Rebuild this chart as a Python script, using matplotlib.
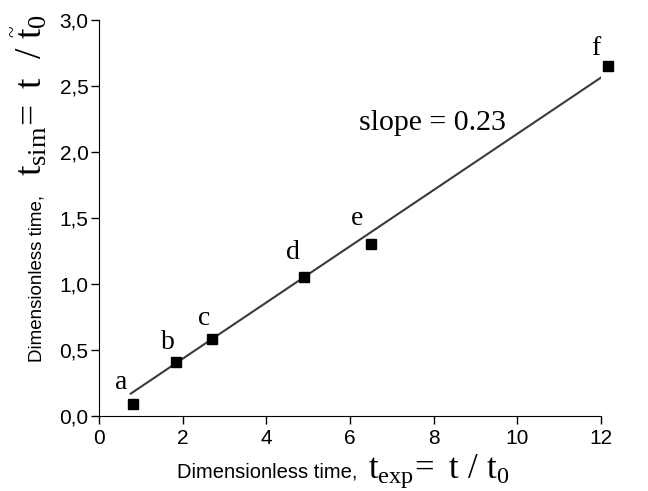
"""Dimensionless time: simulation vs experiment, with linear fit."""

import matplotlib

matplotlib.use("Agg")
import matplotlib.pyplot as plt  # noqa: E402

# data
labels = ["a", "b", "c", "d", "e", "f"]
t_exp = [0.82, 1.85, 2.70, 4.91, 6.50, 12.16]
t_sim = [0.09, 0.41, 0.585, 1.055, 1.30, 2.65]
fit_x = [0.76, 12.12]
fit_y = [0.17, 2.59]
x_ticks = [0, 2, 4, 6, 8, 10, 12]
y_ticks = [0.0, 0.5, 1.0, 1.5, 2.0, 2.5, 3.0]
# label offsets (pixels) from each point
label_offsets = [(-12, 22), (-8, 19), (-8, 20), (-11, 24), (-14, 26), (-12, 18)]

plt.rcParams["font.family"] = ["Liberation Sans", "DejaVu Sans"]
plt.rcParams["mathtext.fontset"] = "custom"
plt.rcParams["mathtext.rm"] = "Liberation Serif"
plt.rcParams["mathtext.it"] = "Liberation Serif"

fig = plt.figure(figsize=(6.48, 4.91), dpi=100)
ax = fig.add_axes([0.1528, 0.1527, 0.7747, 0.8065])

ax.plot(fit_x, fit_y, color="#3a3a3a", lw=1.5, zorder=2)
ax.plot(t_exp, t_sim, "s", color="black", ms=7, clip_on=False, zorder=3)

for lab, x, y, off in zip(labels, t_exp, t_sim, label_offsets):
    ax.annotate(lab, (x, y), xytext=off, textcoords="offset pixels",
                ha="center", va="center", family="Liberation Serif",
                fontsize=20, annotation_clip=False)

ax.text(0.665, 0.739, "slope = 0.23", transform=ax.transAxes,
        family="Liberation Serif", fontsize=21.5, ha="center", va="center")

ax.set_xlim(0, 12)
ax.set_ylim(0, 3)
ax.set_xticks(x_ticks)
ax.set_yticks(y_ticks)
ax.set_xticklabels([str(v) for v in x_ticks])
ax.set_yticklabels([f"{v:.1f}".replace(".", ",") for v in y_ticks])
ax.tick_params(direction="out", length=5.5, width=1, labelsize=15)
ax.tick_params(axis="x", pad=4)
ax.tick_params(axis="y", pad=2)
ax.spines["top"].set_visible(False)
ax.spines["right"].set_visible(False)

# axis labels: sans text followed by a larger serif math part
fig.text(0.551, 0.0265, "Dimensionless time,", ha="right", va="baseline",
         fontsize=14.5)
fig.text(0.568, 0.0265, r"$\mathrm{t_{exp}\!=\ t\ /\ t_0}$", ha="left",
         va="baseline", fontsize=25)
fig.text(0.0648, 0.432, "Dimensionless time,", ha="center", va="baseline",
         rotation=90, rotation_mode="anchor", fontsize=13.5)
fig.text(0.0648, 0.806, r"$\mathrm{t_{sim}\!=\ t\ \ /\ \widetilde{t}_0}$",
         ha="center", va="baseline", rotation=90, rotation_mode="anchor",
         fontsize=27)

fig.savefig("out.png", dpi=100)
